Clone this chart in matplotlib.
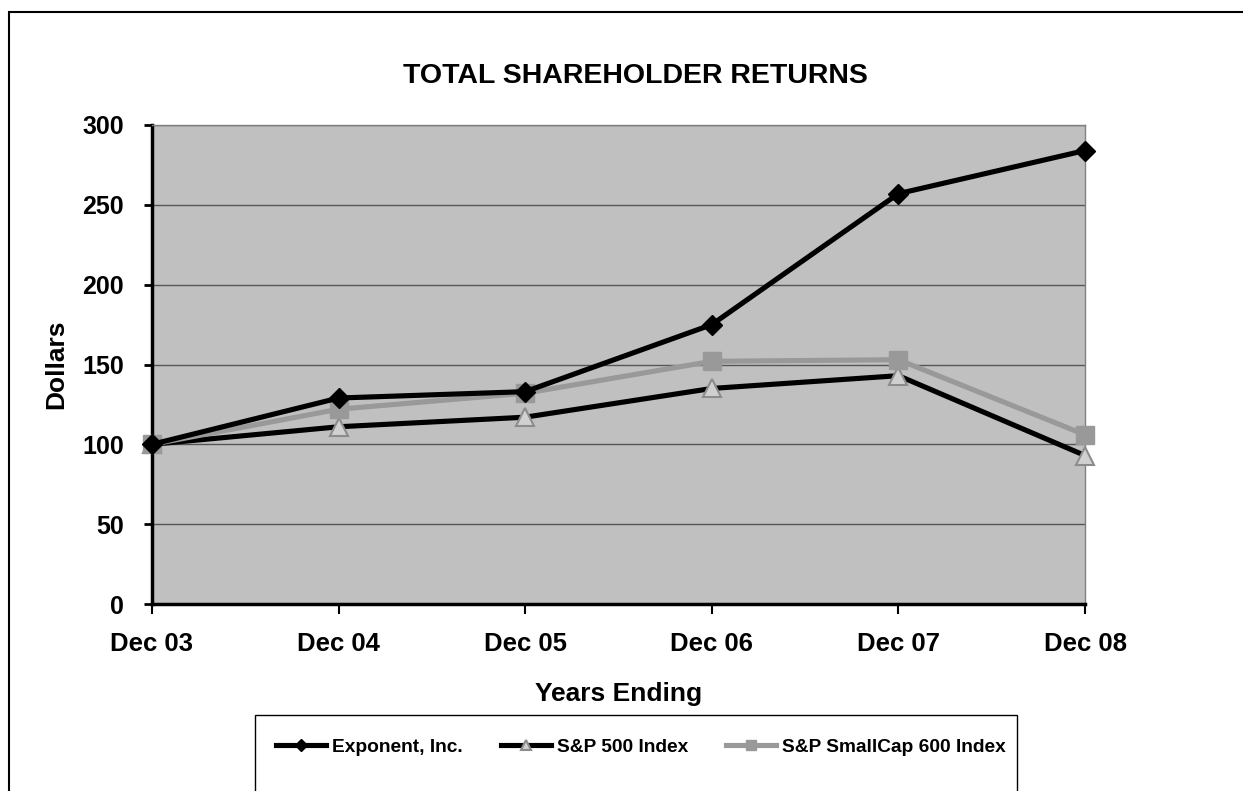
import matplotlib
matplotlib.use("Agg")
from matplotlib import pyplot as plt
from matplotlib.patches import Rectangle
import numpy as np

plt.rcParams['font.family'] = ['Liberation Sans', 'DejaVu Sans']
plt.rcParams['font.weight'] = 'bold'

years = ["Dec 03", "Dec 04", "Dec 05", "Dec 06", "Dec 07", "Dec 08"]
exponent = [100, 129, 133, 175, 257, 284]
sp500 = [100, 111, 117, 135, 143, 93]
smallcap = [100, 122, 132, 152, 153, 106]

fig = plt.figure(figsize=(12.43, 7.91), dpi=100)
ax = fig.add_axes([152/1243, 1 - 604/791, (1085 - 152)/1243, (604 - 125)/791])

x = np.arange(len(years))
ax.set_facecolor('#c0c0c0')
for yv in [50, 100, 150, 200, 250, 300]:
    ax.axhline(yv, color='#555555', lw=1, zorder=1)

ax.plot(x, sp500, color='black', lw=3.7, marker='^', ms=13, mfc='#d0d0d0',
        mec='#8c8c8c', mew=1.5, zorder=3, label='S&P 500 Index', clip_on=False)
ax.plot(x, smallcap, color='#999999', lw=3.7, marker='s', ms=13, mfc='#999999',
        mec='#999999', zorder=4, label='S&P SmallCap 600 Index', clip_on=False)
ax.plot(x, exponent, color='black', lw=3.7, marker='D', ms=10, mfc='black',
        mec='black', zorder=5, label='Exponent, Inc.', clip_on=False)

ax.set_xlim(0, 5)
ax.set_ylim(0, 300)
ax.set_yticks([0, 50, 100, 150, 200, 250, 300])
ax.set_xticks(x)
ax.set_xticklabels(years, fontsize=18.5, fontweight='bold')
ax.tick_params(axis='y', labelsize=18, length=6, width=2, direction='out', pad=14)
ax.tick_params(axis='x', length=7, width=1.5, direction='out', pad=13)
for lab in ax.get_yticklabels():
    lab.set_fontweight('bold')

ax.spines['left'].set_linewidth(2.5)
ax.spines['bottom'].set_linewidth(2.5)
ax.spines['right'].set_color('#808080')
ax.spines['top'].set_color('#808080')
ax.spines['right'].set_linewidth(1)
ax.spines['top'].set_linewidth(1)

ax.set_ylabel('Dollars', fontsize=19, fontweight='bold', labelpad=10)
ax.set_xlabel('Years Ending', fontsize=19, fontweight='bold', labelpad=19)
fig.text(635/1243, 1 - 76/791, 'TOTAL SHAREHOLDER RETURNS', ha='center', va='center',
         fontsize=20.5, fontweight='bold')

# outer border and legend box
fig.patches.append(Rectangle((9/1243, -0.1), 1.2, 0.1 + (1 - 12/791), transform=fig.transFigure,
                             fill=False, ec='black', lw=1.5))
fig.patches.append(Rectangle((255/1243, -0.1), (1017 - 255)/1243, 0.1 + (1 - 715/791),
                             transform=fig.transFigure, fill=False, ec='black', lw=1))

h, l = ax.get_legend_handles_labels()
order = [2, 0, 1]
fig.legend([h[i] for i in order], [l[i] for i in order], loc='center',
           bbox_to_anchor=(641/1243, 1 - 747/791), ncol=3, frameon=False,
           markerscale=0.6, handlelength=2.6, handletextpad=0.3, columnspacing=2.0,
           prop={'weight': 'bold', 'size': 13.8})

fig.savefig('out.png', dpi=100)
